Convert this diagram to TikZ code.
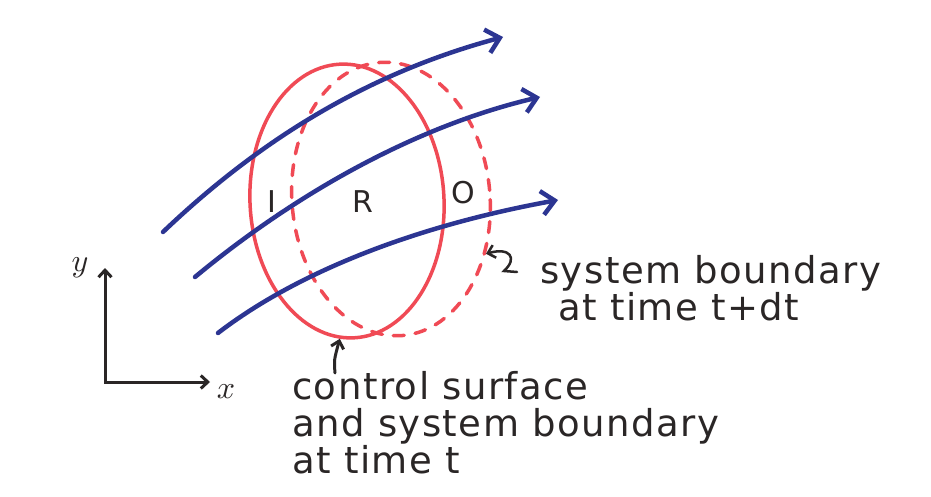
\documentclass[tikz,border=0pt]{standalone}
\usepackage{fontspec}
\setmainfont[LetterSpace=4]{DejaVu Sans}
\usetikzlibrary{arrows.meta, shapes.geometric}
\definecolor{cred}{HTML}{F04A55}
\definecolor{cblue}{HTML}{2C3592}
\definecolor{cink}{HTML}{2A2626}
\tikzset{
  every picture/.style={x=1pt, y=-1pt, line cap=round},
  surface/.style={draw=cred, ellipse, line width=3.5pt, inner sep=0pt},
  flow/.style={draw=cblue, line width=4.5pt, -{Straight Barb[length=13pt, width=24pt]}},
  ink/.style={draw=cink, line width=3pt, -{Straight Barb[length=7pt, width=13pt]}},
  note/.style={text=cink, font=\fontsize{37}{37}\selectfont, align=left, inner sep=0pt},
  region/.style={text=cink, font=\fontsize{30}{32}\selectfont, inner sep=0pt},
  axlabel/.style={text=cink, scale=3.2, inner sep=0pt},
}

\begin{document}
\begin{tikzpicture}
  \fill[white] (0,0) rectangle (931,497);
  \useasboundingbox (0,0) rectangle (931,497);
  % control surface and the shifted system boundary
  \node[surface, rotate=3, minimum width=194, minimum height=274] (cs) at (347,201) {};
  \node[surface, rotate=5, minimum width=198, minimum height=274, dash pattern=on 11pt off 11pt] (sb) at (391,199) {};
  % streamlines
  \coordinate (f1s) at (163,232);
  \coordinate (f1e) at (503,37);
  \coordinate (f2s) at (195,277);
  \coordinate (f2e) at (540,97);
  \coordinate (f3s) at (218,333);
  \coordinate (f3e) at (558,200);
  \draw[flow] (f1s) .. controls (270,130) and (380,70) .. (f1e);
  \draw[flow] (f2s) .. controls (300,190) and (420,125) .. (f2e);
  \draw[flow] (f3s) .. controls (300,270) and (420,225) .. (f3e);
  \node[region] (in) at (272,202) {I};
  \node[region] (mid) at (363,202) {R};
  \node[region] (out) at (463,193) {O};
  % axes
  \coordinate (ytip) at (105,268);
  \coordinate (xtip) at (210,382);
  \draw[ink, {Straight Barb[length=7pt, width=13pt]}-{Straight Barb[length=7pt, width=13pt]}] (ytip) |- (xtip);
  \node[axlabel] (ylab) at (80,268) {$y$};
  \node[axlabel] (xlab) at (226,392) {$x$};
  % labels
  \node[note, anchor=north west] (sbnote) at (540,255) {system boundary\\\hspace*{18pt}at time t+dt};
  \node[note, anchor=north west] (csnote) at (292,371) {control surface\\and system boundary\\at time t};
  \coordinate (sqtail) at (517,272);
  \draw[ink, line width=2.5pt] (sqtail) -- (504,271) .. controls (518,258) and (510,247) .. (sb.-35);
  \coordinate (cstail) at (335,373);
  \draw[ink] (cstail) .. controls (334,360) .. (cs.-96);
\end{tikzpicture}
\end{document}
